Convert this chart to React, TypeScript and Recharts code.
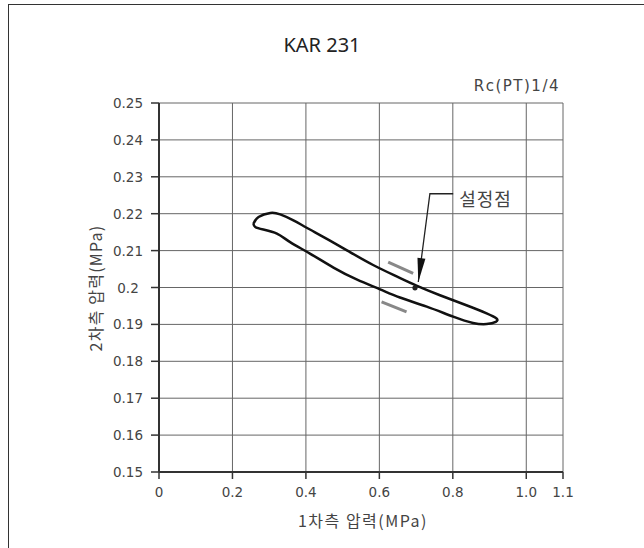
import { ScatterChart, Scatter, XAxis, YAxis, CartesianGrid } from 'recharts';

// hysteresis loop: upper edge left->right, then lower edge right->left
const loopX = [
  0.257, 0.271, 0.303, 0.330, 0.366, 0.402, 0.457, 0.520, 0.583, 0.647, 0.701, 0.765, 0.837, 0.892, 0.919,
  0.917, 0.892, 0.855, 0.801, 0.729, 0.656, 0.602, 0.538, 0.475, 0.411, 0.357, 0.321, 0.284, 0.262, 0.257,
];
const loopY = [
  0.2173, 0.2191, 0.2202, 0.2198, 0.2182, 0.2162, 0.2132, 0.2096, 0.2061, 0.2030, 0.2005, 0.1979, 0.1952, 0.1930, 0.1916,
  0.1907, 0.1901, 0.1904, 0.1921, 0.1948, 0.1973, 0.1995, 0.2022, 0.2054, 0.2092, 0.2123, 0.2146, 0.2157, 0.2164, 0.2173,
];

// direction marks next to the loop
const upperMarkX = [0.624, 0.692];
const upperMarkY = [0.2069, 0.2038];
const lowerMarkX = [0.606, 0.674];
const lowerMarkY = [0.1961, 0.1934];

// set point and its leader
const setPointX = 0.697;
const setPointY = 0.1999;
const leaderX = [0.801, 0.7376, 0.706];
const leaderY = [0.2254, 0.2254, 0.2015];
const setPointLabel = '설정점';

const xTicks = [0, 0.2, 0.4, 0.6, 0.8, 1.0, 1.1];
const xTickLabels = ['0', '0.2', '0.4', '0.6', '0.8', '1.0', '1.1'];
const yTicks = [0.15, 0.16, 0.17, 0.18, 0.19, 0.2, 0.21, 0.22, 0.23, 0.24, 0.25];
const yTickLabels = ['0.15', '0.16', '0.17', '0.18', '0.19', '0.2', '0.21', '0.22', '0.23', '0.24', '0.25'];

const zip = (xs: number[], ys: number[]) => xs.map((x, i) => ({ x, y: ys[i] }));

const loop = zip(loopX, loopY);
const upperMark = zip(upperMarkX, upperMarkY);
const lowerMark = zip(lowerMarkX, lowerMarkY);
const leader = zip(leaderX, leaderY);
const arrowTip = [{ x: leaderX[2], y: leaderY[2] }];
const setPoint = [{ x: setPointX, y: setPointY }];
const labelPoint = [{ x: leaderX[0], y: leaderY[0], name: setPointLabel }];

const tickFont = { fontFamily: '"DejaVu Sans", sans-serif', fontSize: 13.5, fill: '#444' };
const korFont = '"Noto Sans CJK KR", "Noto Sans", sans-serif';

const Nothing = () => <g />;

// y tick labels sit centred in a column left of the axis
function YTick(props: any) {
  const { x, y, payload } = props;
  const label = yTickLabels[yTicks.indexOf(payload.value)] ?? String(payload.value);
  return (
    <text x={x - 17} y={y} textAnchor="middle" dominantBaseline="central" style={tickFont}>
      {label}
    </text>
  );
}

// arrowhead pointing from the leader corner to the tip
function ArrowHead(props: any) {
  const { cx, cy } = props;
  if (cx == null || cy == null) return <g />;
  const dx = -11.7;
  const dy = 88.4;
  const len = Math.hypot(dx, dy);
  const ux = dx / len;
  const uy = dy / len;
  const bx = cx - ux * 24;
  const by = cy - uy * 24;
  const px = -uy * 4;
  const py = ux * 4;
  return (
    <polygon
      points={`${cx},${cy} ${bx + px},${by + py} ${bx - px},${by - py}`}
      fill="#111"
    />
  );
}

function Dot(props: any) {
  const { cx, cy } = props;
  return <circle cx={cx} cy={cy} r={2.6} fill="#222" />;
}

function PointLabel(props: any) {
  const { cx, cy, payload } = props;
  return (
    <text
      x={cx + 6}
      y={cy + 4}
      dominantBaseline="central"
      style={{ fontFamily: korFont, fontSize: 18, fill: '#444', letterSpacing: 1 }}
    >
      {payload.name}
    </text>
  );
}

export default function App() {
  return (
    <div style={{ position: 'absolute', left: 0, top: 0, width: 644, height: 548, background: '#fff' }}>
      {/* frame */}
      <div
        style={{
          position: 'absolute',
          left: 8,
          top: 4,
          width: 640,
          height: 548,
          borderTop: '1.5px solid #333',
          borderLeft: '1.5px solid #333',
        }}
      />
      <div
        style={{
          position: 'absolute',
          left: 0,
          width: 644,
          top: 31,
          textAlign: 'center',
          fontFamily: '"Noto Sans", sans-serif',
          fontSize: 20,
          color: '#222',
          lineHeight: '28px',
        }}
      >
        KAR 231
      </div>
      <div
        style={{
          position: 'absolute',
          right: 644 - 560,
          top: 75,
          fontFamily: '"DejaVu Sans", sans-serif',
          fontSize: 15,
          letterSpacing: 1.5,
          color: '#444',
          lineHeight: '22px',
        }}
      >
        Rc(PT)1/4
      </div>
      <div
        style={{
          position: 'absolute',
          left: 95 - 90,
          top: 288 - 12,
          width: 180,
          height: 24,
          lineHeight: '24px',
          textAlign: 'center',
          transform: 'rotate(-90deg)',
          fontFamily: korFont,
          fontSize: 16,
          letterSpacing: 1.2,
          color: '#444',
        }}
      >
        2차측 압력(MPa)
      </div>
      <div
        style={{
          position: 'absolute',
          left: 363 - 100,
          top: 520 - 12,
          width: 200,
          lineHeight: '24px',
          textAlign: 'center',
          fontFamily: korFont,
          fontSize: 16,
          letterSpacing: 1.5,
          color: '#444',
        }}
      >
        1차측 압력(MPa)
      </div>

      <div style={{ position: 'absolute', left: 0, top: 0 }}>
        <ScatterChart width={644} height={548} margin={{ top: 103, right: 81, bottom: 46, left: 99 }}>
          <CartesianGrid stroke="#666" strokeWidth={1} />
          <XAxis
            type="number"
            dataKey="x"
            domain={[0, 1.1]}
            ticks={xTicks}
            tickFormatter={(v: number) => xTickLabels[xTicks.indexOf(v)] ?? String(v)}
            height={30}
            tick={tickFont}
            tickSize={7}
            tickMargin={8}
            axisLine={{ stroke: '#333', strokeWidth: 2 }}
            tickLine={{ stroke: '#333', strokeWidth: 1.5 }}
            allowDataOverflow
          />
          <YAxis
            type="number"
            dataKey="y"
            domain={[0.15, 0.25]}
            ticks={yTicks}
            width={60}
            tick={YTick}
            tickSize={8}
            tickMargin={6}
            axisLine={{ stroke: '#333', strokeWidth: 2 }}
            tickLine={{ stroke: '#333', strokeWidth: 1.5 }}
            allowDataOverflow
          />
          <Scatter
            data={loop}
            line={{ stroke: '#111', strokeWidth: 2.5 }}
            lineType="joint"
            lineJointType="natural"
            shape={Nothing}
            isAnimationActive={false}
          />
          <Scatter
            data={upperMark}
            line={{ stroke: '#888', strokeWidth: 3 }}
            lineType="joint"
            shape={Nothing}
            isAnimationActive={false}
          />
          <Scatter
            data={lowerMark}
            line={{ stroke: '#888', strokeWidth: 3 }}
            lineType="joint"
            shape={Nothing}
            isAnimationActive={false}
          />
          <Scatter
            data={leader}
            line={{ stroke: '#222', strokeWidth: 1.3 }}
            lineType="joint"
            shape={Nothing}
            isAnimationActive={false}
          />
          <Scatter data={arrowTip} shape={ArrowHead} isAnimationActive={false} />
          <Scatter data={setPoint} shape={Dot} isAnimationActive={false} />
          <Scatter data={labelPoint} shape={PointLabel} isAnimationActive={false} />
        </ScatterChart>
      </div>
    </div>
  );
}
